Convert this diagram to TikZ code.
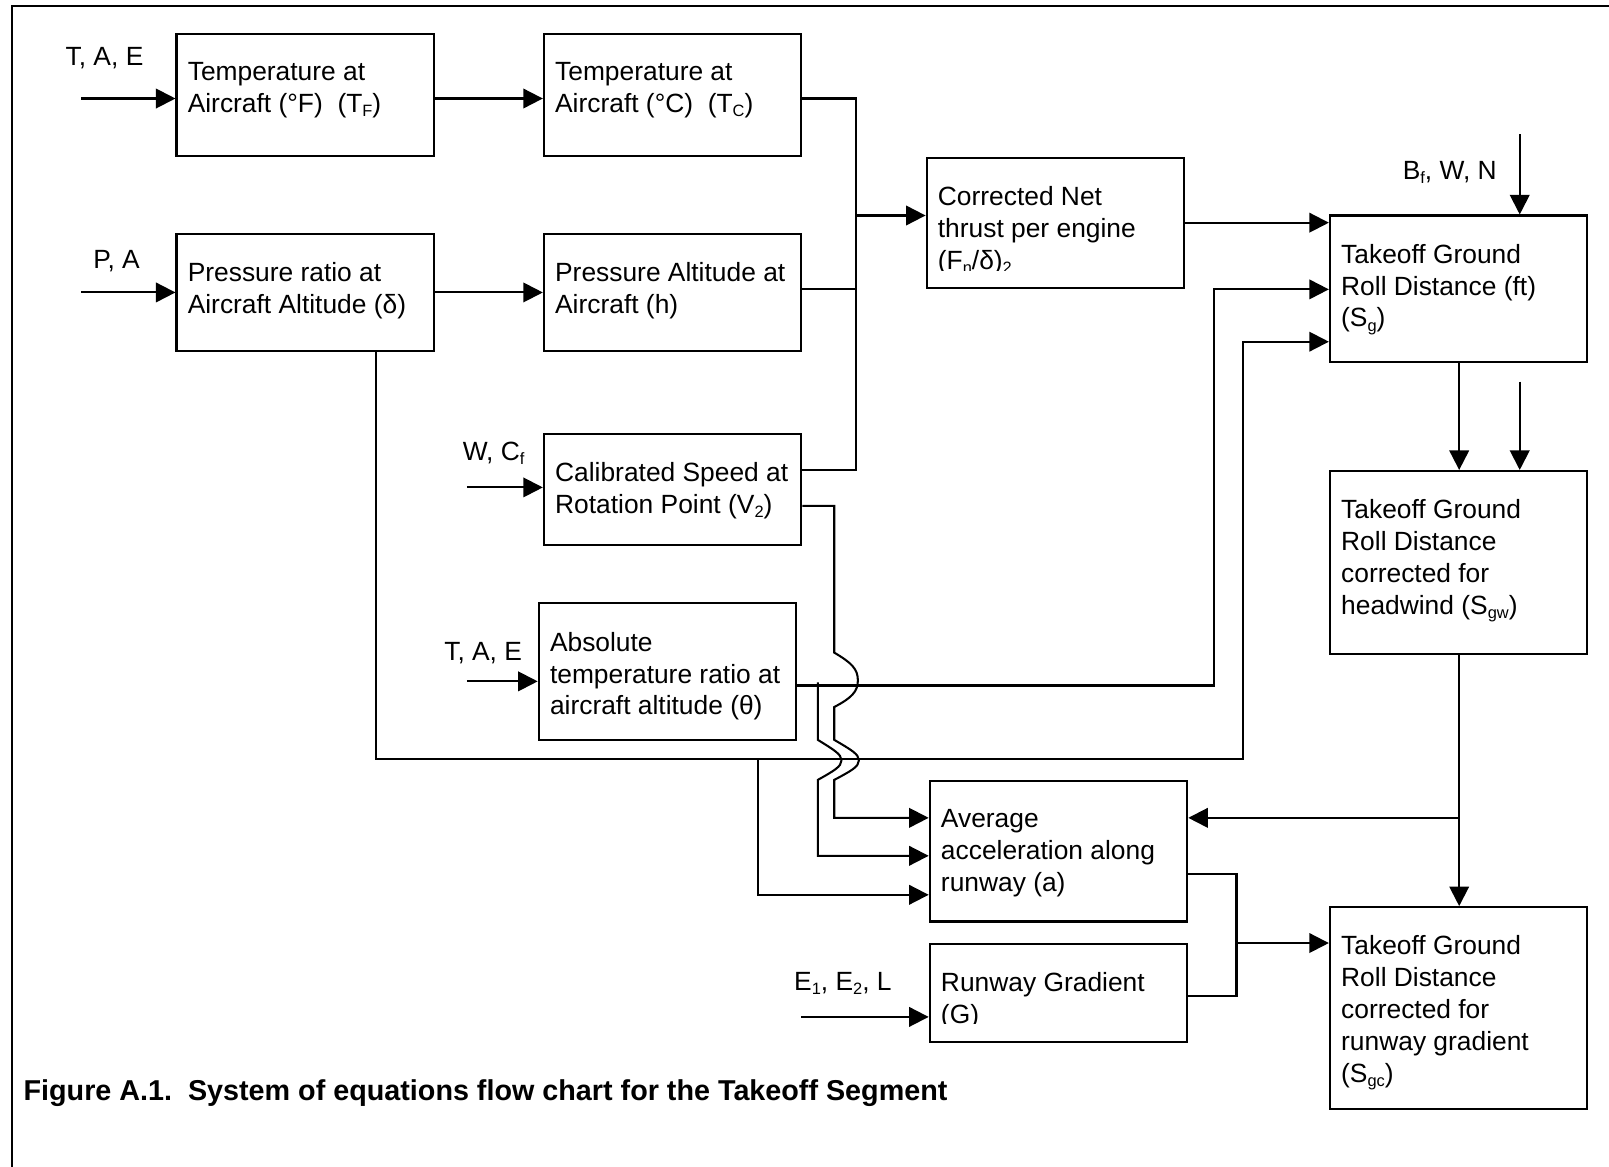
\documentclass[tikz,border=0pt]{standalone}
\usepackage{fontspec}
\setmainfont{Liberation Sans}
\usetikzlibrary{arrows.meta,calc}
\newcommand\lowtxt[1]{\raisebox{-4pt}{\fontsize{16}{16}\selectfont #1}}
\begin{document}
\begin{tikzpicture}[x=1pt,y=-1pt,line width=2pt,
  box/.style={draw,inner sep=0pt,minimum width=251pt},
  txt/.style={anchor=north west,align=left,inner sep=0pt,font=\fontsize{25.7}{31}\selectfont,
    execute at begin node={\rule{0pt}{20pt}}},
  lab/.style={anchor=base west,inner sep=0pt,font=\fontsize{25.7}{31}\selectfont},
  arr/.style={-{Triangle[length=19pt,width=19pt]}},
  wire/.style={line width=2pt}]
\useasboundingbox (0,0) rectangle (1568,1137);

% outer frame (left and top edges)
\draw[line width=2pt] (12,1140) -- (12,6) -- (1570,6);

% boxes
\node[box,minimum height=119pt] (tf)  at (297.5,92.5) {};
\node[box,minimum height=119pt] (tc)  at (655.5,92.5) {};
\node[box,minimum height=114pt] (dl)  at (297.5,285) {};
\node[box,minimum height=114pt] (ha)  at (655.5,285) {};
\node[box,minimum height=108pt] (v2)  at (655.5,477) {};
\node[box,minimum height=133pt] (th)  at (650.5,654.5) {};
\node[box,minimum height=127pt] (fn)  at (1028.5,217.5) {};
\node[box,minimum height=143pt] (sg)  at (1421.5,281.5) {};
\node[box,minimum height=178pt] (sgw) at (1421.5,548) {};
\node[box,minimum height=137pt] (av)  at (1031.5,829.5) {};
\node[box,minimum height=95pt]  (gr)  at (1031.5,967.5) {};
\node[box,minimum height=197pt] (sgc) at (1421.5,982.5) {};

% box texts (first baseline 48pt below the top edge)
\node[txt] (tftext) at ($(tf.north west)+(11,28)$) {Temperature at\\Aircraft (°F)\ \ (T\lowtxt{F})};
\node[txt] (tctext) at ($(tc.north west)+(11,28)$) {Temperature at\\Aircraft (°C)\ \ (T\lowtxt{C})};
\node[txt] (dltext) at ($(dl.north west)+(11,28)$) {Pressure ratio at\\Aircraft Altitude (δ)};
\node[txt] (hatext) at ($(ha.north west)+(11,28)$) {Pressure Altitude at\\Aircraft (h)};
\node[txt] (v2text) at ($(v2.north west)+(11,28)$) {Calibrated Speed at\\Rotation Point (V\lowtxt{2})};
\node[txt] (thtext) at ($(th.north west)+(11,28)$) {Absolute\\temperature ratio at\\aircraft altitude (θ)};
\begin{scope}
  \clip (fn.north west) rectangle ($(fn.south east)+(0,-18)$);
  \node[txt] (fntext) at ($(fn.north west)+(11,28)$) {Corrected Net\\thrust per engine\\(F\lowtxt{n}/δ)\lowtxt{2}};
\end{scope}
\node[txt] (sgtext) at ($(sg.north west)+(11,28)$) {Takeoff Ground\\Roll Distance (ft)\\(S\lowtxt{g})};
\node[txt] (sgwtext) at ($(sgw.north west)+(11,28)$) {Takeoff Ground\\Roll Distance\\corrected for\\headwind (S\lowtxt{gw})};
\node[txt] (avtext) at ($(av.north west)+(11,28)$) {Average\\acceleration along\\runway (a)};
\begin{scope}
  \clip (gr.north west) rectangle ($(gr.south east)+(0,-19)$);
  \node[txt] (grtext) at ($(gr.north west)+(11,28)$) {Runway Gradient\\(G)};
\end{scope}
\node[txt] (sgctext) at ($(sgc.north west)+(11,28)$) {Takeoff Ground\\Roll Distance\\corrected for\\runway gradient\\(S\lowtxt{gc})};

% input labels
\node[lab] (lab1) at (63,64)   {T, A, E};
\node[lab] (lab2) at (90,262)  {P, A};
\node[lab] (lab3) at (450,449) {W, C\lowtxt{f}};
\node[lab] (lab4) at (432,644) {T, A, E};
\node[lab] (lab5) at (773,965) {E\lowtxt{1}, E\lowtxt{2}, L};
\node[lab] (lab6) at (1366,175) {B\lowtxt{f}, W, N};

% free ends of the inputs
\coordinate (in1) at (79,96);
\coordinate (in2) at (79,285);
\coordinate (in3) at (455,475);
\coordinate (in4) at (455,664);
\coordinate (in5) at (781,991);
\coordinate (in6) at (1481,131);
\coordinate (in7) at (1481,372);

\draw[arr] (in1) -- (tf.west |- in1);
\draw[arr] (in2) -- (dl.west |- in2);
\draw[arr] (in3) -- (v2.west |- in3);
\draw[arr] (in4) -- (th.west |- in4);
\draw[arr] (in5) -- (gr.west |- in5);
\draw[arr] (in6) -- (sg.north -| in6);
\draw[arr] (in7) -- (sgw.north -| in7);

% first row
\draw[arr] (tf.east |- 0,96) -- (tc.west |- 0,96);
\draw[arr] (dl.east |- 0,285) -- (ha.west |- 0,285);

% collecting bus into the thrust box
\coordinate (busT) at (834,96);
\coordinate (busB) at (834,458);
\draw[wire] (tc.east |- busT) -- (busT) -- (busB) -- (v2.east |- busB);
\draw[wire] (ha.east |- 0,282) -- (834,282);
\draw[arr] (834,210) -- (fn.west |- 0,210);
\draw[arr] (fn.east |- 0,217) -- (sg.west |- 0,217);

% theta to Sg
\coordinate (thR) at (1183,668);
\draw[arr] (th.east |- thR) -- (thR) -- (1183,282) -- (sg.west |- 0,282);

% delta to Sg and to acceleration
\coordinate (dlB) at (366,740);
\coordinate (dlR) at (1211,740);
\draw[arr] (dl.south -| dlB) -- (dlB) -- (dlR) -- (1211,333) -- (sg.west |- 0,333);
\draw[arr] (739,740) -- (739,872) -- (av.west |- 0,872);

% V2 to acceleration, jumping over two lines
\draw[arr] (v2.east |- 0,493) -- (813,493) -- (813,636)
  .. controls (830,646) and (836,652) .. (836,663)
  .. controls (836,674) and (830,680) .. (813,689)
  -- (813,721)
  .. controls (830,731) and (837,735) .. (837,741)
  .. controls (837,747) and (830,751) .. (813,760)
  -- (813,797) -- (av.west |- 0,797);

% theta branch to acceleration, jumping over the delta line
\draw[arr] (797,665) -- (797,721)
  .. controls (813,731) and (820,735) .. (820,741)
  .. controls (820,747) and (813,751) .. (797,760)
  -- (797,834) -- (av.west |- 0,834);

% right column
\draw[arr] (sg.south -| 1422,0) -- (sgw.north -| 1422,0);
\draw[arr] (sgw.south -| 1422,0) -- (sgc.north -| 1422,0);
\draw[arr] (1422,797) -- (av.east |- 0,797);

% acceleration and gradient into Sgc
\draw[wire] (av.east |- 0,852) -- (1205,852) -- (1205,971) -- (gr.east |- 0,971);
\draw[arr] (1205,919) -- (sgc.west |- 0,919);

% caption
\node[lab,font=\fontsize{28}{33}\selectfont\bfseries] (caption) at (22,1072)
  {Figure A.1.\ \ System of equations flow chart for the Takeoff Segment};
\end{tikzpicture}
\end{document}
